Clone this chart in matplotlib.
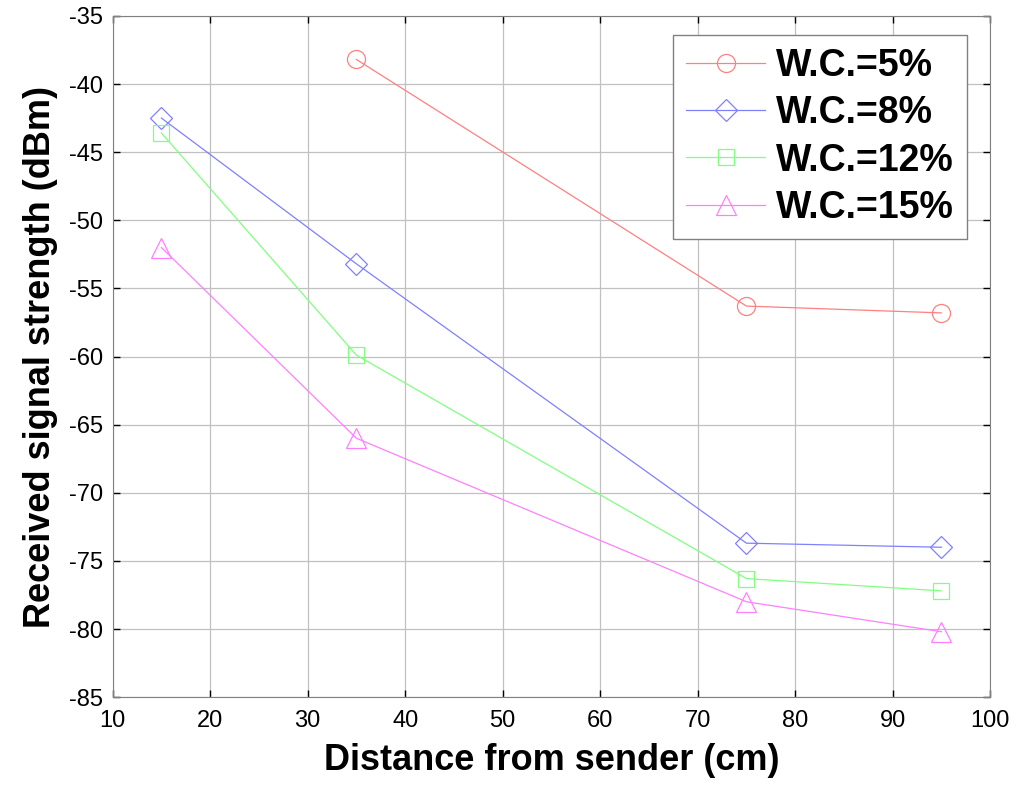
import matplotlib
matplotlib.use("Agg")
import matplotlib.pyplot as plt

plt.rcParams['font.family'] = ['Liberation Sans', 'DejaVu Sans']
plt.rcParams['axes.unicode_minus'] = False

# data
dist_5 = [35, 75, 95]
rss_5 = [-38.2, -56.3, -56.8]
dist = [15, 35, 75, 95]
rss_8 = [-42.5, -53.2, -73.7, -74.0]
rss_12 = [-43.6, -59.9, -76.3, -77.2]
rss_15 = [-52.0, -66.0, -78.0, -80.2]

fig = plt.figure(figsize=(10.24, 7.94), dpi=100)
ax = fig.add_axes([0.110, 0.122, 0.857, 0.858])

ms = 13
ax.plot(dist_5, rss_5, color='#ff8080', lw=0.9, marker='o', ms=ms, mfc='none', mew=0.9, label='W.C.=5%')
ax.plot(dist, rss_8, color='#8080ff', lw=0.9, marker='D', ms=ms - 2, mfc='none', mew=0.9, label='W.C.=8%')
ax.plot(dist, rss_12, color='#80ff80', lw=0.9, marker='s', ms=ms - 1, mfc='none', mew=0.9, label='W.C.=12%')
ax.plot(dist, rss_15, color='#ff80ff', lw=0.9, marker='^', ms=ms + 1, mfc='none', mew=0.9, label='W.C.=15%')

ax.set_xlim(10, 100)
ax.set_ylim(-85, -35)
ax.set_xticks(range(10, 101, 10))
ax.set_yticks(range(-85, -34, 5))
ax.grid(True, color='#c0c0c0', lw=0.9)
ax.tick_params(direction='in', top=True, right=True, labelsize=17, length=5, width=1)
ax.tick_params(axis='x', pad=9)
ax.tick_params(axis='y', pad=7)
for s in ax.spines.values():
    s.set_color('#808080')

ax.set_xlabel('Distance from sender (cm)', fontsize=26, fontweight='bold', labelpad=8)
ax.set_ylabel('Received signal strength (dBm)', fontsize=26, fontweight='bold', labelpad=8)

leg = ax.legend(loc='upper right', bbox_to_anchor=(0.974, 0.972), prop={'size': 27, 'weight': 'bold'},
                fancybox=False, framealpha=1, edgecolor='#808080', handlelength=2.1,
                borderpad=0.35, labelspacing=0.3, handletextpad=0.3, borderaxespad=0)
leg.get_frame().set_linewidth(1)

fig.savefig('out.png', dpi=100)
